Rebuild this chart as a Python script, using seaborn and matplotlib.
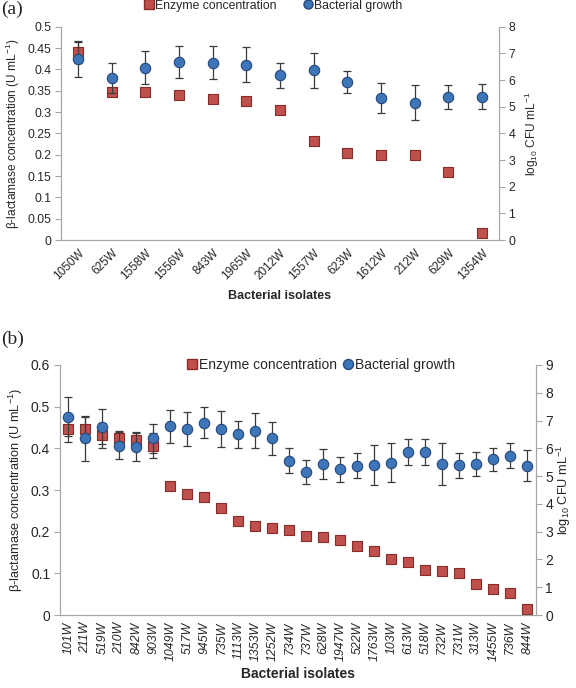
import numpy as np
import pandas as pd
import matplotlib
matplotlib.use("Agg")
import matplotlib.pyplot as plt
import seaborn as sns
from matplotlib.lines import Line2D

sns.set_theme(style="white")
plt.rcParams['font.family'] = ['Liberation Sans', 'DejaVu Sans']
plt.rcParams['mathtext.default'] = 'regular'

# Panel (a)
isolates_a = ['1050W', '625W', '1558W', '1556W', '843W', '1965W', '2012W',
              '1557W', '623W', '1612W', '212W', '629W', '1354W']
enzyme_a = [0.440, 0.347, 0.347, 0.341, 0.331, 0.327, 0.305,
            0.232, 0.205, 0.200, 0.200, 0.160, 0.016]
enzyme_err_a = [0.025, 0.008, 0.007, 0.005, 0.005, 0.005, 0.004,
                0.005, 0.006, 0.008, 0.004, 0.006, 0.003]
growth_a = [6.80, 6.08, 6.46, 6.67, 6.66, 6.58, 6.18,
            6.37, 5.93, 5.32, 5.15, 5.37, 5.37]
growth_err_a = [0.68, 0.58, 0.62, 0.60, 0.62, 0.65, 0.48,
                0.65, 0.42, 0.57, 0.65, 0.45, 0.47]

# Panel (b)
isolates_b = ['101W', '211W', '519W', '210W', '842W', '903W', '1049W', '517W',
              '945W', '735W', '1113W', '1353W', '1252W', '734W', '737W', '628W',
              '1947W', '522W', '1763W', '103W', '613W', '518W', '732W', '731W',
              '313W', '1455W', '736W', '844W']
enzyme_b = [0.446, 0.446, 0.432, 0.426, 0.420, 0.406, 0.310, 0.290,
            0.284, 0.256, 0.226, 0.214, 0.210, 0.204, 0.190, 0.187,
            0.179, 0.166, 0.153, 0.134, 0.128, 0.108, 0.106, 0.101,
            0.075, 0.063, 0.053, 0.015]
enzyme_err_b = [0.030, 0.030, 0.030, 0.015, 0.020, 0.030, 0.005, 0.004,
                0.004, 0.004, 0.005, 0.004, 0.004, 0.004, 0.003, 0.003,
                0.003, 0.003, 0.003, 0.003, 0.003, 0.003, 0.003, 0.003,
                0.003, 0.003, 0.003, 0.003]
growth_b = [7.14, 6.36, 6.78, 6.10, 6.06, 6.36, 6.80, 6.71,
            6.93, 6.71, 6.50, 6.64, 6.36, 5.55, 5.14, 5.44,
            5.25, 5.37, 5.40, 5.49, 5.87, 5.87, 5.43, 5.39,
            5.43, 5.60, 5.74, 5.38]
growth_err_b = [0.70, 0.81, 0.64, 0.48, 0.50, 0.51, 0.59, 0.61,
                0.55, 0.65, 0.47, 0.64, 0.60, 0.45, 0.43, 0.54,
                0.45, 0.45, 0.73, 0.70, 0.48, 0.47, 0.76, 0.45,
                0.44, 0.42, 0.45, 0.57]

RED = '#C0504D'
RED_EDGE = '#8A2B28'
BLUE = '#3E74B8'
BLUE_EDGE = '#24497A'
SPINE = '#A6A6A6'


def draw_panel(ax, isolates, enzyme, enzyme_err, growth, growth_err,
               ymax, ystep, gmax, rot, fs_tick, fs_xt, fs_lab,
               fs_xlab, xlabpad, rlabpad):
    n = len(isolates)
    df = pd.DataFrame({"pos": np.arange(n), "enzyme": enzyme,
                       "enzyme_err": enzyme_err, "growth": growth,
                       "growth_err": growth_err})
    ax2 = ax.twinx()
    msize = 7.5

    ax.errorbar(df["pos"], df["enzyme"], yerr=df["enzyme_err"], fmt='none',
                ecolor='#3a3a3a', elinewidth=0.9, capsize=3, capthick=0.9,
                zorder=1)
    sns.scatterplot(data=df, x="pos", y="enzyme", ax=ax, marker='s',
                    s=msize ** 2, color=RED, edgecolor=RED_EDGE,
                    linewidth=0.8, zorder=2, legend=False)

    ax2.errorbar(df["pos"], df["growth"], yerr=df["growth_err"], fmt='none',
                 ecolor='#3a3a3a', elinewidth=0.9, capsize=3, capthick=0.9,
                 zorder=1)
    sns.scatterplot(data=df, x="pos", y="growth", ax=ax2, marker='o',
                    s=msize ** 2, color=BLUE, edgecolor=BLUE_EDGE,
                    linewidth=0.8, zorder=2, legend=False)

    ax.set_xlim(-0.5, n - 0.5)
    ax.set_ylim(0, ymax)
    ax2.set_ylim(0, gmax)
    yt = np.arange(0, ymax + 1e-9, ystep)
    ax.set_yticks(yt)
    ax.set_yticklabels([f"{round(v, 2):g}" for v in yt])
    ax2.set_yticks(np.arange(0, gmax + 1, 1))

    ax.set_xticks(np.arange(n))
    ax.set_xticks(np.arange(n + 1) - 0.5, minor=True)
    if rot == 45:
        ax.set_xticklabels(isolates, rotation=45, ha='right',
                           rotation_mode='anchor', fontsize=fs_xt)
    else:
        ax.set_xticklabels(isolates, rotation=90, ha='center',
                           fontsize=fs_xt, style='italic')
    ax.tick_params(axis='x', which='major', length=0, pad=5)
    ax.tick_params(axis='x', which='minor', length=4, color=SPINE, width=0.8)
    ax.tick_params(axis='y', length=4, color=SPINE, width=0.8,
                   labelsize=fs_tick, direction='out', left=True, pad=3)
    ax2.tick_params(axis='y', length=4, color=SPINE, width=0.8,
                    labelsize=fs_tick, direction='out', right=True, pad=3)

    for a in (ax, ax2):
        a.spines['top'].set_visible(False)
        for s in ('left', 'right', 'bottom'):
            a.spines[s].set_color(SPINE)
            a.spines[s].set_linewidth(0.8)
        a.set_xlabel('')
    ax.set_xlabel('Bacterial isolates', fontsize=fs_xlab, fontweight='bold',
                  labelpad=xlabpad)
    ax.set_ylabel(r'β-lactamase concentration (U mL$^{-1}$)',
                  fontsize=fs_lab, labelpad=4)
    ax2.set_ylabel(r'log$_{10}$ CFU mL$^{-1}$', fontsize=fs_lab,
                   labelpad=rlabpad)
    ax2.set_zorder(ax.get_zorder() + 1)
    ax2.patch.set_visible(False)
    return ax2


fig = plt.figure(figsize=(5.76, 6.88), dpi=100)
ax_a = fig.add_axes([0.106, 0.651, 0.760, 0.310])
ax_b = fig.add_axes([0.104, 0.106, 0.826, 0.3635])

draw_panel(ax_a, isolates_a, enzyme_a, enzyme_err_a, growth_a, growth_err_a,
           0.5, 0.05, 8, 45, 8.8, 8.5, 8.6, 9, 6, 5)
draw_panel(ax_b, isolates_b, enzyme_b, enzyme_err_b, growth_b, growth_err_b,
           0.6, 0.1, 9, 90, 10, 8.8, 9.2, 10, 4, 1)

labels = ['Enzyme concentration', 'Bacterial growth']


def make_handles(ms):
    return [
        Line2D([], [], marker='s', linestyle='none', markersize=ms,
               markerfacecolor=RED, markeredgecolor=RED_EDGE),
        Line2D([], [], marker='o', linestyle='none', markersize=ms,
               markerfacecolor=BLUE, markeredgecolor=BLUE_EDGE),
    ]


fig.legend(make_handles(6.5), labels, loc='center left',
           bbox_to_anchor=(0.239, 0.992), ncol=2, frameon=False,
           fontsize=8.8, handlelength=0.8, handletextpad=0.1,
           columnspacing=2.2, borderpad=0)
fig.legend(make_handles(7.2), labels, loc='center left',
           bbox_to_anchor=(0.311, 0.470), ncol=2, frameon=False,
           fontsize=10, handlelength=0.8, handletextpad=0.1,
           columnspacing=0.4, borderpad=0)

fig.text(0.002, 0.987, '(a)', family=['Liberation Serif'], fontsize=14,
         va='center')
fig.text(0.002, 0.507, '(b)', family=['Liberation Serif'], fontsize=14,
         va='center')

fig.savefig('out.png', dpi=100)
